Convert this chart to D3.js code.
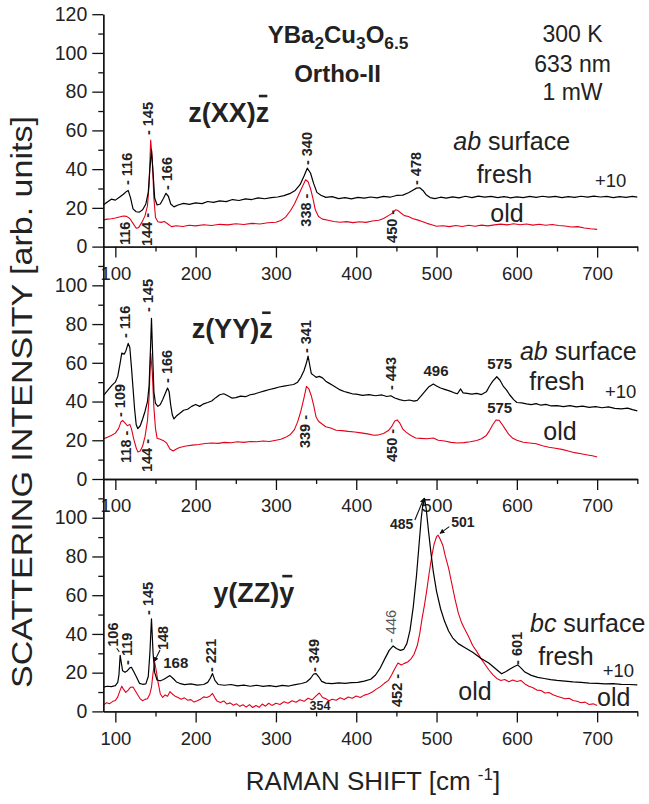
<!DOCTYPE html>
<html>
<head>
<meta charset="utf-8">
<script src="https://cdn.jsdelivr.net/npm/d3@7"></script>
<style>
  body { margin: 0; background: #fff; }
  svg { display: block; font-family: "Liberation Sans", Arial, sans-serif; }
</style>
</head>
<body>
<script>
// Spectra: [raman shift cm-1, intensity]
const xxFresh = [[85,21.5],[90,23],[95,24.5],[100,24],[105,25.5],[110,27],[114,28.5],[116,29],[119,25],[122,19.5],[126,18],[130,17.8],[134,19],[138,22],[141,28],[143,40],[145,50],[147,38],[149,25],[152,21.5],[156,22],[160,25],[163,27.5],[166,26],[169,22],[173,20.5],[178,21.5],[185,22.3],[192,21.8],[200,22.6],[208,22.2],[215,23.3],[222,22.8],[230,23.6],[238,23.2],[246,24.3],[254,23.8],[262,24.6],[270,24.3],[278,25.2],[286,24.7],[294,25.3],[302,25.6],[310,26.3],[318,27.5],[324,29],[330,32],[335,36.5],[339,40.5],[343,38],[347,32.5],[351,28],[356,26.5],[362,25.4],[370,25.8],[378,24.8],[386,25.3],[394,24.6],[402,25.4],[410,25],[418,25.6],[426,25.2],[434,25.9],[442,25.5],[450,26.4],[458,26.6],[465,27.8],[470,29],[475,30.2],[479,30.4],[483,29],[487,26.8],[492,25.3],[498,24.8],[505,25.5],[512,25],[520,25.7],[528,25.2],[536,26],[544,25.3],[552,26.1],[560,25.5],[568,25.9],[576,25.3],[584,25.8],[592,25.2],[600,25.7],[608,25.3],[616,25.9],[624,25.4],[632,26],[640,25.5],[648,25.9],[656,25.3],[664,25.8],[672,25.4],[680,26],[688,25.5],[696,26.1],[704,25.6],[712,25.9],[720,25.3],[728,25.8],[736,25.4],[744,25.9],[750,25.5]];
const xxOld = [[85,13.8],[90,14.2],[95,14.4],[100,14.8],[105,15.3],[110,15.8],[114,15.6],[118,14.5],[122,12],[126,9.5],[129,9.8],[133,12.5],[137,16],[140,21],[142,32],[144,55],[146,45],[148,25],[150,15],[153,12.8],[157,12.5],[161,13],[165,11.8],[170,10.3],[176,10.8],[184,10.4],[192,11],[200,10.7],[210,11.3],[220,10.9],[230,11.5],[240,11.2],[250,11.8],[260,11.4],[270,12],[280,11.7],[290,12.3],[300,12.6],[306,13.5],[312,15.2],[318,18.5],[323,22],[328,26.5],[333,31],[337,34.5],[340,33.5],[343,30],[346,25],[349,19],[353,15.5],[358,14.2],[365,13.6],[372,13],[380,12.6],[388,12.9],[396,12.4],[404,12.8],[412,12.5],[420,13.2],[428,13.6],[434,14.5],[440,16],[445,17.3],[449,19],[452,18.6],[456,17.2],[460,16],[465,15.5],[470,14.5],[476,13.8],[482,13],[488,12],[494,11.3],[500,10.5],[508,10.8],[516,10.3],[524,10.9],[532,10.4],[540,11],[548,10.5],[556,11.1],[564,10.7],[572,11.2],[580,11.6],[588,11.2],[596,11.8],[604,11.3],[612,11.7],[620,11.1],[628,11.5],[636,11],[644,11.4],[652,10.9],[660,10.6],[668,10.1],[676,10.3],[684,9.6],[692,9.2],[700,8.9]];

const yyFresh = [[85,43],[88,44.5],[92,46.5],[96,48.5],[100,50],[103,53],[106,60],[108,65],[111,64.5],[113,66],[116,70],[118,68],[120,58],[122,47],[124,36],[126,28],[128,26],[131,27.5],[134,31],[137,35],[140,40],[142,48],[144,70],[145,83],[146,70],[148,45],[150,39],[153,37.5],[156,38.5],[159,41],[162,44],[165,47],[167,45],[169,38],[171,33],[173,31],[176,32.5],[180,33.8],[185,35.5],[190,36],[195,37.5],[200,38.5],[205,37.5],[210,38.8],[215,39.5],[220,40.3],[225,42],[230,43.5],[235,44],[240,43],[245,41.8],[250,42],[256,42.8],[262,42.5],[268,43.5],[274,44],[280,44.8],[286,45.5],[292,46.2],[298,46.8],[304,47.5],[310,48],[316,48.4],[322,48.8],[327,50],[331,52.5],[335,56],[338,60],[340,63.5],[342,59],[344,54.5],[347,53.5],[350,52.5],[354,53],[358,52.2],[362,50.5],[366,49.5],[370,48.5],[375,47.2],[380,46],[385,45.2],[390,44.6],[395,44],[400,43.8],[408,43.2],[416,43.6],[424,43],[432,43.4],[438,42.6],[443,43],[448,41.8],[454,41],[460,40.4],[466,40.8],[472,40.2],[476,40.6],[480,42.5],[485,45],[490,47.5],[496,49],[500,48],[505,47],[510,46.3],[516,45.5],[522,44.5],[526,44],[530,46.5],[533,44.5],[538,44.2],[544,43.8],[550,44.2],[556,43.6],[562,45],[566,48],[570,50.5],[575,52.8],[579,51],[583,48],[587,46],[591,43.5],[596,41],[600,39.5],[606,39.3],[612,38.8],[618,38.4],[624,38.9],[630,38.1],[636,38.5],[642,37.8],[650,37.9],[658,37.4],[666,37.9],[674,37.2],[682,37.6],[690,37],[698,37.4],[706,36.8],[714,37.2],[722,36.5],[730,36.2],[738,36.6],[744,35.8],[750,35.2]];
const yyOld = [[85,20.8],[90,21.5],[95,22.5],[100,23.7],[104,26],[107,29.5],[109,30.2],[112,29],[115,27.5],[118,28.2],[120,26],[123,20.5],[126,16],[128,14],[131,14.5],[134,17],[137,22],[140,30],[142,42],[144,65],[146,55],[148,37],[150,26],[152,21],[156,20.5],[160,19.8],[164,18.5],[168,15.5],[172,14.5],[176,15.5],[180,16.3],[188,17],[196,17.5],[204,17.8],[212,18.3],[220,18.6],[228,18.4],[236,18.9],[244,18.7],[252,19.2],[260,18.9],[268,19.4],[276,19.2],[284,19.6],[292,19.4],[300,20],[306,20.5],[312,21.5],[318,23],[323,25.5],[327,29.5],[331,35],[335,42],[338,47.8],[341,46.5],[344,43],[347,38],[350,32],[353,29.8],[357,28.5],[362,27],[368,26.3],[375,25.2],[382,25],[390,24.6],[398,24.3],[406,23.8],[414,23.3],[422,22.6],[428,22.8],[434,23.5],[440,25],[444,27],[448,30],[451,30.5],[454,29],[458,25.8],[462,24.2],[468,22.5],[474,21.2],[480,21],[488,20.8],[496,21.2],[502,20],[510,19.6],[518,18.9],[526,18.6],[534,18.8],[542,19.2],[550,19.9],[556,20.8],[562,22.5],[566,25],[570,28],[574,30.5],[578,30.3],[582,28],[586,25.5],[590,23],[595,21],[600,20],[608,19],[616,18.6],[624,18.2],[632,17.2],[640,16.4],[648,15.9],[656,15.3],[664,14.5],[672,13.6],[680,13],[688,12.4],[694,12],[700,11.4]];

const zzFresh = [[85,12.5],[90,13],[95,12.8],[100,13.3],[103,15],[104.5,19],[106,29],[107.5,25],[109,21],[112,20.2],[115,21],[118,22.5],[120,22.8],[123,20.5],[126,18],[130,14.5],[134,14],[138,14.2],[141,18],[143,30],[145,47.8],[147,30],[149,20],[152,16.2],[156,15.8],[160,16.5],[164,17.5],[168,18.5],[172,17],[176,15.2],[180,14.5],[186,13.8],[194,14.2],[202,13.6],[210,13.9],[215,15],[218,17],[221,19.5],[224,16],[228,13.9],[236,13.5],[244,13.9],[252,13.2],[260,13.6],[268,13],[276,13.5],[284,12.9],[292,13.3],[300,12.8],[308,13.4],[316,13.1],[324,13.8],[332,14.4],[338,15.2],[343,17],[347,19.3],[350,19.5],[353,18],[357,15.5],[362,14.6],[370,14.3],[378,14.7],[386,14.5],[394,14.9],[402,15],[410,15.6],[418,16.6],[424,18.8],[430,22.5],[436,27.5],[441,31.5],[446,33.8],[450,32.5],[455,31.5],[459,32],[463,35],[467,42],[471,54],[475,70],[478,85],[481,100],[483,107],[485,110],[487,105],[490,93],[493,82],[496,72],[500,62],[505,53],[510,46.5],[515,41.5],[520,38],[527,35],[535,33],[545,30.5],[555,27.5],[565,25],[575,21.5],[581,19.4],[586,20.5],[592,22],[597,23.2],[601,24],[605,22.5],[610,20.3],[618,18.6],[626,17.6],[634,17],[642,16.4],[650,16],[660,15.6],[670,15.2],[680,15],[690,14.6],[700,14.5],[710,14.2],[720,14.3],[730,14],[740,13.9],[750,13.7]];
const zzOld = [[85,3.2],[89,4.5],[93,4],[97,5.2],[100,5.6],[103,7.5],[106,11],[108,13],[110,11.5],[113,9.8],[116,11],[119,12.5],[122,12.6],[125,10.5],[128,8.5],[131,6.5],[134,5.5],[137,6.2],[140,6.5],[143,9],[145,12.5],[147,20],[149,25.3],[151,21],[153,15.5],[156,9],[159,7.2],[162,8.5],[165,7.8],[168,10.2],[171,9],[174,8],[178,7.2],[182,6.3],[186,7],[190,5.8],[194,6.1],[198,4.8],[202,5.5],[206,6.3],[210,7.5],[214,7.2],[218,8],[221,9.3],[224,7],[227,5.2],[231,4.6],[235,5.4],[239,3.8],[243,4.4],[247,3.2],[251,3.9],[255,2.6],[259,3.4],[263,2.2],[267,3.5],[271,2],[275,3],[279,2.1],[283,3.8],[287,2.7],[291,4.2],[295,3.1],[300,4.2],[305,3.6],[310,5],[315,4.2],[320,5.5],[325,4.7],[330,6],[335,5.2],[340,6.8],[345,6],[350,8],[354,9.5],[358,7.2],[362,6.6],[366,5.5],[370,6.3],[375,5.8],[380,7],[385,6.1],[390,7.4],[395,6.8],[400,7.9],[405,7.2],[410,8.4],[415,9],[420,10],[425,11.5],[430,12.8],[435,14.5],[440,16],[444,18.8],[448,22],[452,25],[456,24],[460,24.8],[464,25.5],[468,27],[472,29.5],[476,34],[479,40],[482,48],[485,55],[488,63],[491,72],[494,80],[497,86.5],[500,90.2],[502,91],[505,88.5],[508,85.5],[511,80],[515,74],[519,66],[523,58],[527,51],[531,46],[535,42.5],[540,38.5],[545,34],[550,31],[555,27.5],[560,24.5],[565,21.5],[570,19],[575,17],[580,16],[585,16.5],[590,15.3],[595,16.2],[600,15.4],[605,16],[610,14.2],[615,13],[620,12.2],[625,11],[630,10.8],[635,9.5],[640,9.8],[645,8.6],[650,7.8],[655,7.2],[660,6.5],[665,6.8],[670,5.6],[675,5.2],[680,4.5],[685,4.8],[690,3.6],[695,3.9],[700,3.1]];

// tick values
const xMajorTicks = [100, 200, 300, 400, 500, 600, 700];
const xMinorTicks = [150, 250, 350, 450, 550, 650, 750];
const yMajorTicksTop = [0, 20, 40, 60, 80, 100, 120];
const yMajorTicks = [0, 20, 40, 60, 80, 100];
const yMinorTicks = [10, 30, 50, 70, 90, 110];

// peak labels: [text, shift, intensity] (rotated, text starts at the point)
const xxPeaks = [["- 116",115,31.8],["- 145",141,57.6],["- 166",164,29.2],["- 340",339,42.1],["- 478",475,31.8],
  ["116",112,0.8],["144 -",139,0.3],["338 -",338,10.3],["450 -",445,1.9]];
const yyPeaks = [["- 116",112,72.8],["- 145",141,86.2],["- 166",164,49.6],["- 109",106,32],["118 -",113,8.3],
  ["144 -",139,3.6],["- 341",338,65],["339 -",336,16],["- 443",443,45.9],["450 -",445,8.8]];
const zzPeaks = [["106",97.5,33.4],["- 119",114,24],["- 145",141,49.8],["148",159.7,31.7],["- 221",218.7,20.3],
  ["- 349",347.8,20.3],["452 -",451,2.3],["- 601",599.8,24]];

const RED = "#e2001a", INK = "#222";

const W = 649, H = 804;
const svg = d3.select("body").append("svg").attr("width", W).attr("height", H);

svg.append("defs").append("marker")
  .attr("id", "head").attr("viewBox", "0 0 10 10").attr("refX", 9).attr("refY", 5)
  .attr("markerWidth", 4.5).attr("markerHeight", 4.5).attr("orient", "auto")
  .append("path").attr("d", "M0,0 L10,5 L0,10 z").attr("fill", "#111");

const x = d3.scaleLinear().domain([85, 750]).range([103.3, 637.3]);
const panelH = 232.4;
const panelTops = [14.2, 246.6, 479];

const panels = [
  { fresh: xxFresh, old: xxOld, peaks: xxPeaks, yMajor: yMajorTicksTop },
  { fresh: yyFresh, old: yyOld, peaks: yyPeaks, yMajor: yMajorTicks },
  { fresh: zzFresh, old: zzOld, peaks: zzPeaks, yMajor: yMajorTicks }
];

const scales = [];

panels.forEach((p, i) => {
  const y = d3.scaleLinear().domain([0, 120]).range([panelTops[i] + panelH, panelTops[i]]);
  scales.push(y);
  const g = svg.append("g");
  const line = d3.line().x(d => x(d[0])).y(d => y(d[1]));

  g.append("path").datum(p.old).attr("d", line)
    .attr("fill", "none").attr("stroke", RED).attr("stroke-width", 1.1).attr("stroke-linejoin", "round");
  g.append("path").datum(p.fresh).attr("d", line)
    .attr("fill", "none").attr("stroke", "#000").attr("stroke-width", 1.2).attr("stroke-linejoin", "round");

  // y axis
  const yMaj = g.append("g").attr("transform", `translate(${x.range()[0]},0)`)
    .call(d3.axisLeft(y).tickValues(p.yMajor).tickSize(11).tickPadding(5).tickSizeOuter(0));
  const yMin = g.append("g").attr("transform", `translate(${x.range()[0]},0)`)
    .call(d3.axisLeft(y).tickValues(yMinorTicks).tickSize(5).tickFormat("").tickSizeOuter(0));
  yMaj.selectAll("text").attr("font-size", 19.5).attr("fill", INK).attr("font-family", null);

  // x axis
  const base = y(0);
  const xMaj = g.append("g").attr("transform", `translate(0,${base})`)
    .call(d3.axisBottom(x).tickValues(xMajorTicks).tickSize(11).tickPadding(9).tickSizeOuter(0));
  const xMin = g.append("g").attr("transform", `translate(0,${base})`)
    .call(d3.axisBottom(x).tickValues(xMinorTicks).tickSize(5).tickFormat("").tickSizeOuter(0));
  xMaj.selectAll("text").attr("font-size", 18.5).attr("fill", INK).attr("font-family", null);

  [yMaj, yMin, xMaj, xMin].forEach(a => {
    a.selectAll("path,line").attr("stroke", "#111").attr("stroke-width", 1.3);
  });

  // rotated peak labels
  g.selectAll(".pk").data(p.peaks).enter().append("text")
    .attr("class", "pk")
    .attr("transform", d => `translate(${x(d[1]) + 5},${y(d[2])}) rotate(-90)`)
    .attr("font-size", 14.5).attr("font-weight", "bold")
    .attr("fill", INK)
    .text(d => d[0]);
});

const [yXX, yYY, yZZ] = scales;

// helper for plain text notes
function note(yS, t, wn, v, opts = {}) {
  const el = svg.append("text")
    .attr("x", x(wn)).attr("y", yS(v))
    .attr("font-size", opts.size || 25)
    .attr("font-weight", opts.weight || "normal")
    .attr("text-anchor", opts.anchor || "middle")
    .attr("fill", opts.color || INK);
  if (Array.isArray(t)) {
    t.forEach(part => {
      const ts = el.append("tspan").text(part[0]);
      if (part[1] === "i") ts.attr("font-style", "italic");
      if (part[1] === "sub") ts.attr("font-size", (opts.size || 25) * 0.72).attr("dy", 6);
      if (part[1] === "up") ts.attr("dy", -6);
    });
  } else {
    el.text(t);
  }
  return el;
}

// scattering geometry label with bar over the last letter
function geometry(yS, t, wn, v, size) {
  const el = note(yS, t, wn, v, { size: size, weight: "bold", anchor: "start" });
  const n = t.length - 1;
  const a = el.node().getStartPositionOfChar(n);
  const b = el.node().getEndPositionOfChar(n);
  svg.append("line")
    .attr("x1", a.x + 3).attr("x2", b.x - 2)
    .attr("y1", a.y - size * 0.95).attr("y2", a.y - size * 0.95)
    .attr("stroke", "#222").attr("stroke-width", 2.6);
}

// top panel
note(yXX, [["YBa"], ["2", "sub"], ["Cu", "up"], ["3", "sub"], ["O", "up"], ["6.5", "sub"]], 377.3, 105.1, { size: 24, weight: "bold" });
note(yXX, "Ortho-II", 376.7, 85.1, { size: 24, weight: "bold" });
note(yXX, "300 K", 669.3, 105.8, { size: 23 });
note(yXX, "633 nm", 669.3, 90.3, { size: 23 });
note(yXX, "1 mW", 669.3, 75.7, { size: 23 });
geometry(yXX, "z(XX)z", 190.9, 64.5, 27);
note(yXX, [["ab", "i"], [" surface"]], 520.9, 49.9, { anchor: "start" });
note(yXX, "fresh", 584.6, 33);
note(yXX, "+10", 697.3, 30.9, { size: 18.5, anchor: "start" });
note(yXX, "old", 587.7, 12.9);

// middle panel
geometry(yYY, "z(YY)z", 195, 72.6, 27);
note(yYY, "496", 499.3, 53.2, { size: 15, weight: "bold" });
note(yYY, "575", 578.6, 56.8, { size: 15, weight: "bold" });
note(yYY, "575", 578.6, 33.9, { size: 15, weight: "bold" });
note(yYY, [["ab", "i"], [" surface"]], 603.9, 61.4, { anchor: "start" });
note(yYY, "fresh", 650, 45.9);
note(yYY, "+10", 709.8, 41.7, { size: 18.5, anchor: "start" });
note(yYY, "old", 653.7, 20.1);

// bottom panel
geometry(yZZ, "y(ZZ)y", 222, 56.6, 27);
note(yZZ, "168", 175.3, 22.3, { size: 15, weight: "bold" });
note(yZZ, "354", 354.9, 0.7, { size: 12.5, weight: "bold" });
note(yZZ, "485", 456.6, 94, { size: 14, weight: "bold" });
note(yZZ, "501", 532.7, 95.4, { size: 14, weight: "bold" });
svg.append("text")
  .attr("transform", `translate(${x(442.9) + 5},${yZZ(35.3)}) rotate(-90)`)
  .attr("font-size", 14.5).attr("fill", "#555").text("- 446");
note(yZZ, [["bc", "i"], [" surface"]], 616.4, 41.1, { anchor: "start" });
note(yZZ, "fresh", 661.2, 24);
note(yZZ, "+10", 706.9, 17.9, { size: 18.5, anchor: "start" });
note(yZZ, "old", 547.9, 5.9);
note(yZZ, "old", 720.6, 2.8);

// pointers to peaks
const pointers = [[155.6, 31.7, 148.5, 25.7, true], [473, 98.8, 484.2, 110, true], [515.9, 95.4, 504.3, 91.9, true], [101.7, 32.6, 104.9, 30.8, false]];
pointers.forEach(d => {
  svg.append("line")
    .attr("x1", x(d[0])).attr("y1", yZZ(d[1])).attr("x2", x(d[2])).attr("y2", yZZ(d[3]))
    .attr("stroke", "#111").attr("stroke-width", 1.1)
    .attr("marker-end", d[4] ? "url(#head)" : null);
});

// axis titles
svg.append("text")
  .attr("transform", "translate(32,402) rotate(-90)")
  .attr("text-anchor", "middle").attr("font-size", 30).attr("fill", INK)
  .attr("textLength", 572).attr("lengthAdjust", "spacingAndGlyphs")
  .text("SCATTERING INTENSITY [arb. units]");

const xt = svg.append("text")
  .attr("x", 373).attr("y", 790).attr("text-anchor", "middle")
  .attr("font-size", 26).attr("fill", INK);
xt.append("tspan").text("RAMAN SHIFT [cm ");
xt.append("tspan").attr("font-size", 17).attr("dy", -10).text("-1");
xt.append("tspan").attr("dy", 10).text("]");
</script>
</body>
</html>
